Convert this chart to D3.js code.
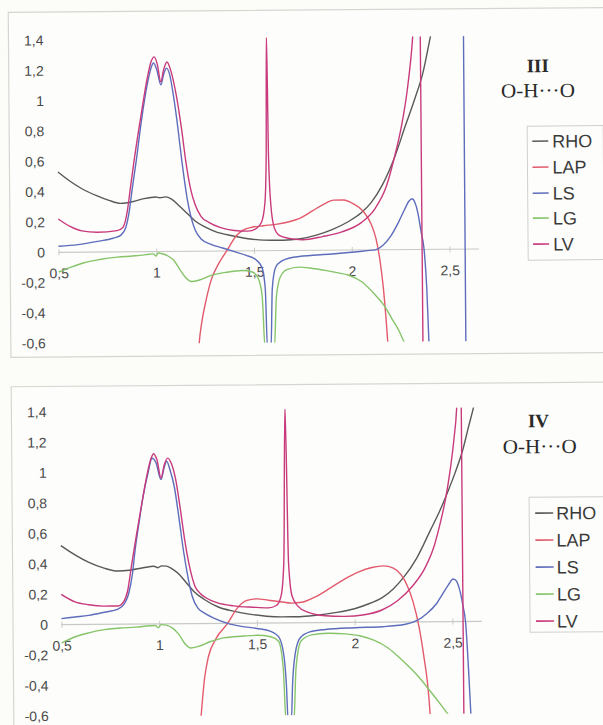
<!DOCTYPE html>
<html lang="en">
<head>
<meta charset="utf-8">
<title>O-H···O profiles</title>
<script src="https://cdnjs.cloudflare.com/ajax/libs/d3/7.8.5/d3.min.js"></script>
<style>
  html, body { margin: 0; padding: 0; background: #fcfcf9; }
  svg { display: block; }
  .tick text { font-family: "Liberation Sans", Arial, sans-serif; font-size: 14px; fill: #4a4a4a; }
  .legend-label { font-family: "Liberation Sans", Arial, sans-serif; font-size: 18px; fill: #3a3a3a; }
  .roman { font-family: "Liberation Serif", "Times New Roman", serif; font-weight: bold; font-size: 19px; fill: #2a2a2a; }
  .bond { font-family: "Liberation Serif", "Times New Roman", serif; font-size: 20px; fill: #2a2a2a; }
</style>
</head>
<body>
<div id="chart"></div>
<script>
// series and ticks
var seriesNames = ["RHO", "LAP", "LS", "LG", "LV"];
var xTicks = [0.5, 1, 1.5, 2, 2.5];
var yTicks = [-0.6, -0.4, -0.2, 0, 0.2, 0.4, 0.6, 0.8, 1, 1.2, 1.4];
var xDomain = [0.5, 2.65];
var yDomain = [-0.6, 1.4];

// panel III  [x, value]
var rhoIII = [[0.5,0.53],[0.56,0.47],[0.62,0.42],[0.7,0.37],[0.76,0.34],[0.82,0.32],[0.88,0.33],[0.94,0.35],[1.0,0.36],[1.02,0.355],[1.05,0.36],[1.08,0.345],[1.12,0.3],[1.16,0.25],[1.2,0.2],[1.25,0.16],[1.3,0.13],[1.39,0.1],[1.47,0.08],[1.55,0.07],[1.65,0.068],[1.73,0.075],[1.82,0.1],[1.9,0.135],[1.98,0.185],[2.05,0.245],[2.1,0.31],[2.16,0.43],[2.22,0.6],[2.28,0.82],[2.33,1.0],[2.37,1.16],[2.41,1.4],[2.45,1.65]];
var lapIII = [[1.2,-0.95],[1.215,-0.62],[1.23,-0.47],[1.25,-0.34],[1.28,-0.19],[1.32,-0.08],[1.36,0.0],[1.41,0.1],[1.45,0.14],[1.49,0.155],[1.55,0.165],[1.62,0.175],[1.68,0.19],[1.74,0.215],[1.8,0.26],[1.86,0.305],[1.91,0.33],[1.96,0.33],[2.01,0.305],[2.06,0.255],[2.1,0.17],[2.125,0.07],[2.145,-0.08],[2.16,-0.25],[2.175,-0.5],[2.185,-0.7]];
var lsIII = [[0.5,0.04],[0.6,0.05],[0.7,0.07],[0.78,0.09],[0.82,0.11],[0.845,0.16],[0.865,0.28],[0.88,0.42],[0.9,0.59],[0.93,0.87],[0.96,1.1],[0.98,1.21],[0.993,1.245],[1.01,1.2],[1.03,1.1],[1.045,1.17],[1.06,1.21],[1.075,1.17],[1.095,1.02],[1.115,0.82],[1.135,0.59],[1.16,0.35],[1.18,0.22],[1.2,0.14],[1.23,0.08],[1.28,0.045],[1.34,0.02],[1.4,-0.005],[1.46,-0.03],[1.51,-0.06],[1.54,-0.11],[1.556,-0.25],[1.565,-0.65],[1.583,-0.65],[1.592,-0.25],[1.61,-0.11],[1.64,-0.07],[1.7,-0.045],[1.8,-0.033],[1.9,-0.025],[2.0,-0.015],[2.08,-0.005],[2.12,0.0],[2.16,0.03],[2.2,0.09],[2.24,0.18],[2.27,0.26],[2.295,0.32],[2.31,0.335],[2.325,0.31],[2.34,0.24],[2.355,0.12],[2.37,0.0],[2.382,-0.25],[2.392,-0.65],[2.45,-2],[2.578,-30],[2.582,30]];
var lgIII = [[0.5,-0.13],[0.56,-0.1],[0.63,-0.07],[0.71,-0.05],[0.8,-0.035],[0.88,-0.028],[0.95,-0.02],[0.985,-0.015],[0.997,-0.03],[1.01,-0.01],[1.03,-0.015],[1.06,-0.03],[1.09,-0.06],[1.12,-0.12],[1.15,-0.175],[1.18,-0.2],[1.22,-0.19],[1.28,-0.16],[1.36,-0.14],[1.44,-0.13],[1.49,-0.14],[1.52,-0.18],[1.54,-0.3],[1.553,-0.65],[1.6,-0.65],[1.613,-0.3],[1.635,-0.17],[1.67,-0.125],[1.73,-0.11],[1.8,-0.12],[1.87,-0.135],[1.93,-0.15],[1.98,-0.165],[2.05,-0.21],[2.12,-0.3],[2.17,-0.38],[2.2,-0.45],[2.24,-0.54],[2.27,-0.63]];
var lvIII = [[0.5,0.22],[0.56,0.17],[0.62,0.14],[0.7,0.13],[0.8,0.14],[0.83,0.16],[0.855,0.28],[0.87,0.42],[0.89,0.6],[0.93,0.92],[0.96,1.14],[0.98,1.25],[0.997,1.285],[1.012,1.24],[1.03,1.12],[1.045,1.2],[1.062,1.25],[1.08,1.2],[1.11,1.02],[1.135,0.8],[1.155,0.59],[1.18,0.4],[1.2,0.31],[1.23,0.23],[1.27,0.19],[1.33,0.155],[1.4,0.135],[1.47,0.13],[1.51,0.145],[1.54,0.19],[1.558,0.32],[1.566,0.62],[1.572,1.43],[1.578,0.62],[1.588,0.3],[1.605,0.15],[1.63,0.1],[1.68,0.08],[1.75,0.07],[1.85,0.09],[1.95,0.12],[2.05,0.18],[2.12,0.27],[2.18,0.42],[2.22,0.6],[2.26,0.82],[2.29,1.05],[2.32,1.4],[2.34,1.8],[2.358,3],[2.362,-3]];

// panel IV  [x, value]
var rhoIV = [[0.5,0.52],[0.57,0.46],[0.64,0.41],[0.72,0.37],[0.79,0.35],[0.85,0.355],[0.92,0.37],[0.975,0.38],[0.995,0.37],[1.015,0.382],[1.04,0.38],[1.07,0.36],[1.1,0.33],[1.14,0.27],[1.18,0.21],[1.23,0.16],[1.3,0.11],[1.38,0.08],[1.46,0.06],[1.55,0.045],[1.63,0.04],[1.72,0.04],[1.81,0.05],[1.9,0.065],[2.0,0.09],[2.08,0.125],[2.14,0.16],[2.2,0.22],[2.25,0.29],[2.32,0.42],[2.39,0.6],[2.44,0.73],[2.48,0.85],[2.52,0.98],[2.56,1.13],[2.59,1.28],[2.615,1.4],[2.65,1.6]];
var lapIV = [[1.19,-0.95],[1.21,-0.62],[1.23,-0.36],[1.25,-0.22],[1.29,-0.1],[1.35,0.0],[1.4,0.1],[1.45,0.15],[1.5,0.16],[1.56,0.15],[1.62,0.14],[1.68,0.13],[1.73,0.135],[1.8,0.17],[1.88,0.23],[1.95,0.285],[2.02,0.33],[2.09,0.36],[2.15,0.37],[2.2,0.355],[2.24,0.31],[2.27,0.24],[2.3,0.13],[2.33,-0.04],[2.355,-0.25],[2.37,-0.4],[2.383,-0.62],[2.39,-0.8]];
var lsIV = [[0.5,0.04],[0.57,0.05],[0.64,0.06],[0.72,0.08],[0.79,0.1],[0.82,0.13],[0.845,0.2],[0.865,0.33],[0.88,0.49],[0.9,0.66],[0.92,0.82],[0.95,1.0],[0.97,1.09],[0.99,1.06],[1.015,0.95],[1.032,1.03],[1.045,1.07],[1.062,1.01],[1.083,0.9],[1.105,0.7],[1.126,0.49],[1.15,0.3],[1.17,0.18],[1.2,0.1],[1.23,0.07],[1.28,0.035],[1.35,0.0],[1.42,-0.02],[1.5,-0.035],[1.57,-0.055],[1.61,-0.09],[1.635,-0.2],[1.648,-0.4],[1.656,-0.65],[1.672,-0.65],[1.68,-0.4],[1.695,-0.2],[1.72,-0.1],[1.77,-0.06],[1.85,-0.045],[2.0,-0.035],[2.14,-0.03],[2.26,-0.015],[2.32,0.01],[2.37,0.055],[2.42,0.12],[2.45,0.18],[2.48,0.24],[2.505,0.28],[2.52,0.27],[2.54,0.2],[2.555,0.1],[2.567,0.0],[2.58,-0.3],[2.592,-0.65],[2.6,-0.9]];
var lgIV = [[0.5,-0.12],[0.57,-0.08],[0.64,-0.055],[0.72,-0.035],[0.8,-0.025],[0.88,-0.02],[0.95,-0.012],[0.98,-0.01],[0.995,-0.025],[1.01,-0.005],[1.04,-0.01],[1.07,-0.03],[1.1,-0.07],[1.13,-0.13],[1.16,-0.16],[1.2,-0.15],[1.26,-0.12],[1.33,-0.095],[1.42,-0.085],[1.5,-0.08],[1.57,-0.09],[1.61,-0.12],[1.633,-0.3],[1.645,-0.65],[1.685,-0.65],[1.698,-0.3],[1.725,-0.12],[1.78,-0.08],[1.86,-0.07],[1.95,-0.075],[2.03,-0.09],[2.1,-0.12],[2.17,-0.17],[2.24,-0.25],[2.31,-0.34],[2.38,-0.45],[2.44,-0.55],[2.48,-0.62]];
var lvIV = [[0.5,0.2],[0.57,0.15],[0.64,0.13],[0.72,0.12],[0.79,0.12],[0.82,0.15],[0.84,0.22],[0.86,0.38],[0.885,0.57],[0.91,0.75],[0.945,0.99],[0.965,1.09],[0.978,1.12],[0.995,1.08],[1.015,0.96],[1.033,1.05],[1.05,1.09],[1.07,1.05],[1.09,0.95],[1.11,0.78],[1.134,0.55],[1.16,0.36],[1.185,0.245],[1.21,0.2],[1.24,0.17],[1.3,0.135],[1.38,0.115],[1.48,0.105],[1.56,0.1],[1.6,0.115],[1.625,0.18],[1.64,0.4],[1.652,1.43],[1.664,0.4],[1.68,0.18],[1.71,0.11],[1.76,0.07],[1.85,0.045],[1.95,0.04],[2.05,0.05],[2.14,0.08],[2.22,0.14],[2.3,0.24],[2.36,0.35],[2.41,0.5],[2.44,0.64],[2.47,0.81],[2.495,1.0],[2.515,1.2],[2.53,1.4],[2.545,1.9],[2.553,3],[2.556,-3]];

var colors = { RHO: "#595959", LAP: "#e25a6c", LS: "#5e6cbc", LG: "#86c46a", LV: "#c83a7c" };

var width = 603, height = 725;

var panels = [
    { id: "III", series: [rhoIII, lapIII, lsIII, lgIII, lvIII],
      frame: [11, 10, 600, 345], yRange: [341.3, 38.3],
      roman: [540, 74], bond: [540, 99],
      legend: { box: [529, 128, 76, 134], rows: [143, 169, 195, 220, 246], dash: [534, 550], text: 554 } },
    { id: "IV", series: [rhoIV, lapIV, lsIV, lgIV, lvIV],
      frame: [11, 384.5, 600, 370], yRange: [714, 410],
      roman: [538, 429], bond: [539, 455],
      legend: { box: [528, 499, 77, 135], rows: [515, 542, 569, 596, 623], dash: [534, 552], text: 555 } }
];

var fmt = function(d) { return String(+d.toFixed(1)).replace(".", ","); };

var svg = d3.select("#chart").append("svg")
    .attr("width", width)
    .attr("height", height);

// the scan is tilted slightly
var root = svg.append("g").attr("transform", "rotate(-0.45, 301, 362)");

panels.forEach(function(p, pi) {
    var g = root.append("g");
    var x = d3.scaleLinear().domain(xDomain).range([59.4, 479.7]);
    var y = d3.scaleLinear().domain(yDomain).range(p.yRange);

    g.append("rect")
        .attr("x", p.frame[0]).attr("y", p.frame[1])
        .attr("width", p.frame[2]).attr("height", p.frame[3])
        .attr("fill", "#fdfdfb")
        .attr("stroke", "#d6d6d1")
        .attr("stroke-width", 1.2);

    // y labels
    var yAxis = d3.axisLeft(y).tickValues(yTicks).tickSize(0).tickPadding(0).tickFormat(fmt);
    g.append("g")
        .attr("transform", "translate(46,0)")
        .call(yAxis)
        .call(function(a) { a.select(".domain").remove(); });

    // x axis at zero
    var xAxis = d3.axisBottom(x).tickValues(xTicks).tickSize(3).tickPadding(13).tickFormat(fmt);
    g.append("g")
        .attr("transform", "translate(0," + y(0) + ")")
        .call(xAxis)
        .call(function(a) {
            a.select(".domain").attr("stroke", "#c9c9c6").attr("stroke-width", 1.2)
                .attr("d", "M" + x(xDomain[0]) + ",0H" + x(xDomain[1]));
            a.selectAll(".tick line").attr("stroke", "#c9c9c6").attr("y1", -3).attr("y2", 3);
        });

    // clip to plot area
    var clipId = "clip" + pi;
    svg.append("defs").append("clipPath").attr("id", clipId)
        .append("rect")
        .attr("x", x(xDomain[0]) - 1)
        .attr("y", y(1.4) - 1)
        .attr("width", x(xDomain[1]) - x(xDomain[0]) + 2)
        .attr("height", y(-0.6) - y(1.4) + 2);

    var line = d3.line()
        .x(function(d) { return x(d[0]); })
        .y(function(d) { return y(d[1]); })
        .curve(d3.curveMonotoneX);

    var lines = g.append("g").attr("clip-path", "url(#" + clipId + ")");
    p.series.forEach(function(data, i) {
        lines.append("path")
            .datum(data)
            .attr("fill", "none")
            .attr("stroke", colors[seriesNames[i]])
            .attr("stroke-width", 1.4)
            .attr("d", line);
    });

    // labels
    g.append("text").attr("class", "roman")
        .attr("x", p.roman[0]).attr("y", p.roman[1])
        .attr("text-anchor", "middle")
        .text(p.id);
    g.append("text").attr("class", "bond")
        .attr("x", p.bond[0]).attr("y", p.bond[1])
        .attr("text-anchor", "middle")
        .attr("textLength", 74).attr("lengthAdjust", "spacingAndGlyphs")
        .text("O-H\u00b7\u00b7\u00b7O");

    // legend
    var lg = p.legend;
    g.append("rect")
        .attr("x", lg.box[0]).attr("y", lg.box[1])
        .attr("width", lg.box[2]).attr("height", lg.box[3])
        .attr("fill", "#fdfdfb")
        .attr("stroke", "#d0d0cc");
    seriesNames.forEach(function(name, i) {
        g.append("line")
            .attr("x1", lg.dash[0]).attr("x2", lg.dash[1])
            .attr("y1", lg.rows[i]).attr("y2", lg.rows[i])
            .attr("stroke", colors[name])
            .attr("stroke-width", 1.6);
        g.append("text").attr("class", "legend-label")
            .attr("x", lg.text).attr("y", lg.rows[i])
            .attr("dy", "0.36em")
            .text(name);
    });
});
</script>
</body>
</html>
